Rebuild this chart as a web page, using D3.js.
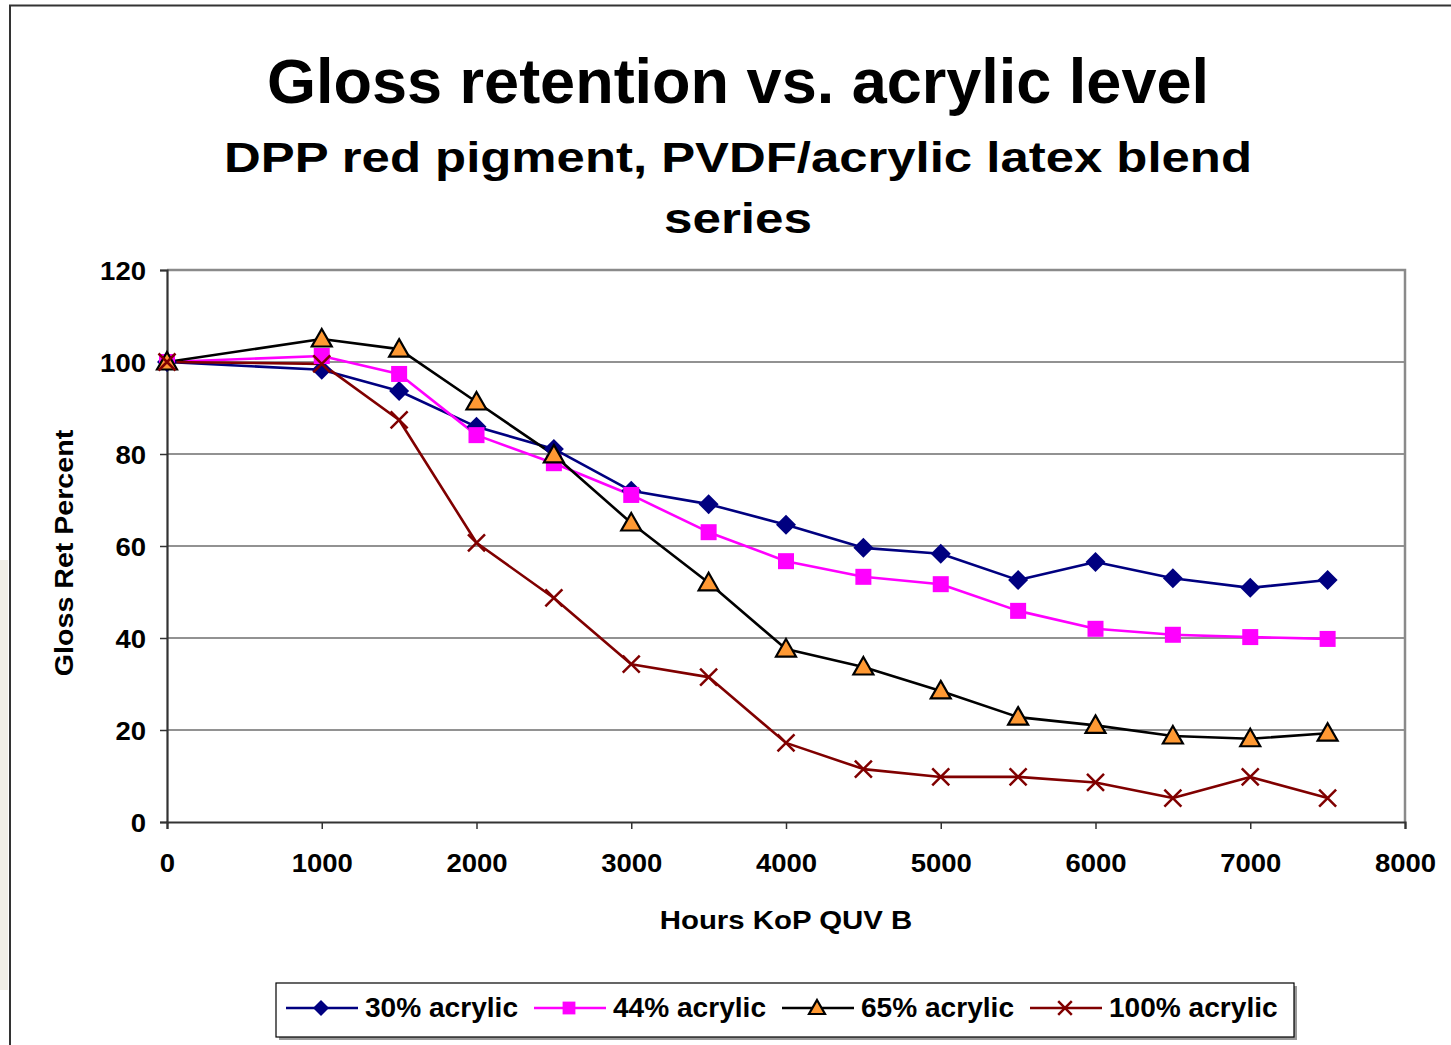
<!DOCTYPE html>
<html>
<head>
<meta charset="utf-8">
<script src="https://cdn.jsdelivr.net/npm/d3@7"></script>
<style>
  body { margin: 0; background: #fff; }
  text { font-family: "Liberation Sans", Arial, sans-serif; font-weight: bold; fill: #000; }
</style>
</head>
<body>
<div id="svg_container"></div>
<script>
// hours of exposure
const hours = [0, 1000, 1500, 2000, 2500, 3000, 3500, 4000, 4500, 5000, 5500, 6000, 6500, 7000, 7500];
// gloss retention per series
const acr30 = [100, 98.3, 93.7, 85.9, 81.1, 72.0, 69.1, 64.6, 59.6, 58.3, 52.6, 56.5, 53.0, 50.9, 52.6];
const acr44 = [100, 101.3, 97.4, 84.1, 78.0, 71.1, 63.0, 56.7, 53.3, 51.7, 45.9, 42.0, 40.7, 40.2, 39.8];
const acr65 = [100, 105.0, 102.8, 91.3, 79.8, 65.0, 52.0, 37.6, 33.7, 28.5, 22.8, 21.0, 18.7, 18.1, 19.3];
const acr100 = [100, 99.6, 87.4, 60.7, 48.7, 34.3, 31.5, 17.2, 11.5, 9.8, 9.8, 8.6, 5.2, 9.8, 5.2];
const seriesNames = ["30% acrylic", "44% acrylic", "65% acrylic", "100% acrylic"];
const xTicks = [0, 1000, 2000, 3000, 4000, 5000, 6000, 7000, 8000];
const yTicks = [0, 20, 40, 60, 80, 100, 120];

function createChart() {
    let width = 1451;
    let height = 1045;
    const svg = d3.select('#svg_container').append("svg")
        .attr("width", width)
        .attr("height", height);

    // stretch text horizontally (the source text is a bit wide)
    function stretch(sel, f) {
        sel.each(function () {
            const w = this.getComputedTextLength();
            d3.select(this).attr("textLength", w * f).attr("lengthAdjust", "spacingAndGlyphs");
        });
    }

    // faint strip on the left edge and the outer frame
    svg.append("rect").attr("x", 0).attr("y", 560).attr("width", 8).attr("height", 430).attr("fill", "#f1efe7");
    svg.append("path")
        .attr("d", "M10,1045 V5.5 H1451")
        .attr("fill", "none").attr("stroke", "#333").attr("stroke-width", 2);

    // titles
    svg.append("text").attr("x", 738).attr("y", 103).attr("text-anchor", "middle")
        .attr("font-size", 63).text("Gloss retention vs. acrylic level");
    svg.append("text").attr("x", 738).attr("y", 172).attr("text-anchor", "middle")
        .attr("font-size", 43).attr("textLength", 1028).attr("lengthAdjust", "spacingAndGlyphs")
        .text("DPP red pigment, PVDF/acrylic latex blend");
    svg.append("text").attr("x", 738).attr("y", 233).attr("text-anchor", "middle")
        .attr("font-size", 43).attr("textLength", 148).attr("lengthAdjust", "spacingAndGlyphs")
        .text("series");

    const left = 167, right = 1405, top = 270, bottom = 822;
    const x = d3.scaleLinear().domain([0, 8000]).range([left, right]);
    const y = d3.scaleLinear().domain([0, 120]).range([bottom, top]);

    // gridlines
    svg.append("g")
        .selectAll("line")
        .data(yTicks.filter(d => d > 0 && d < 120))
        .join("line")
        .attr("x1", left).attr("x2", right)
        .attr("y1", d => y(d)).attr("y2", d => y(d))
        .attr("stroke", "#262626").attr("stroke-width", 1.1);

    // plot area border (top/right gray)
    svg.append("path")
        .attr("d", `M${left},${top} H${right} V${bottom}`)
        .attr("fill", "none").attr("stroke", "#8a8a8a").attr("stroke-width", 2.5);

    // axes
    const yAxis = svg.append("g")
        .attr("transform", `translate(${left},0)`)
        .call(d3.axisLeft(y).tickValues(yTicks).tickSize(7).tickPadding(14).tickFormat(d3.format("d")));
    const xAxis = svg.append("g")
        .attr("transform", `translate(0,${bottom})`)
        .call(d3.axisBottom(x).tickValues(xTicks).tickSize(7).tickPadding(25).tickFormat(d3.format("d")));
    [yAxis, xAxis].forEach(ax => {
        ax.select(".domain").attr("stroke", "#333").attr("stroke-width", 2.2);
        ax.selectAll(".tick line").attr("stroke", "#333").attr("stroke-width", 1.5);
        ax.selectAll(".tick text").attr("font-size", 25).attr("font-family", null).attr("fill", "#000");
        stretch(ax.selectAll(".tick text"), 1.1);
    });
    yAxis.selectAll(".tick text").attr("dy", "0.36em");

    // axis titles
    const xt = svg.append("text").attr("x", 786).attr("y", 929).attr("text-anchor", "middle")
        .attr("font-size", 26).text("Hours KoP QUV B");
    stretch(xt, 1.13);
    const yt = svg.append("text").attr("transform", "translate(73,553) rotate(-90)").attr("text-anchor", "middle")
        .attr("font-size", 26).text("Gloss Ret Percent");
    stretch(yt, 1.1);

    // series definitions
    const series = [
        { name: seriesNames[0], values: acr30, line: "#000080", marker: "diamond" },
        { name: seriesNames[1], values: acr44, line: "#ff00ff", marker: "square" },
        { name: seriesNames[2], values: acr65, line: "#000000", marker: "triangle" },
        { name: seriesNames[3], values: acr100, line: "#800000", marker: "cross" }
    ];

    function drawMarker(g, type, s) {
        if (type === "diamond") {
            g.append("path").attr("d", `M0,${-s} L${s},0 L0,${s} L${-s},0 Z`).attr("fill", "#000080");
        } else if (type === "square") {
            const h = s * 0.8;
            g.append("rect").attr("x", -h).attr("y", -h).attr("width", 2 * h).attr("height", 2 * h).attr("fill", "#ff00ff");
        } else if (type === "triangle") {
            g.append("path").attr("d", `M0,${-s} L${s},${s * 0.75} L${-s},${s * 0.75} Z`)
                .attr("fill", "#ff9933").attr("stroke", "#000").attr("stroke-width", 2.2).attr("stroke-linejoin", "miter");
        } else {
            const h = s * 0.85;
            g.append("path").attr("d", `M${-h},${-h} L${h},${h} M${-h},${h} L${h},${-h}`)
                .attr("stroke", "#800000").attr("stroke-width", 2.5).attr("fill", "none");
        }
    }

    const lineGen = (vals) => d3.line().x((d, i) => x(hours[i])).y(d => y(d))(vals);

    series.forEach(s => {
        svg.append("path")
            .attr("d", lineGen(s.values))
            .attr("fill", "none").attr("stroke", s.line).attr("stroke-width", 2.6)
            .attr("stroke-linejoin", "round");
    });
    series.forEach(s => {
        svg.append("g")
            .selectAll("g")
            .data(s.values)
            .join("g")
            .attr("transform", (d, i) => `translate(${x(hours[i])},${y(d)})`)
            .each(function () { drawMarker(d3.select(this), s.marker, 10); });
    });

    // legend
    const lg = svg.append("g");
    lg.append("rect").attr("x", 279).attr("y", 986).attr("width", 1018).attr("height", 54).attr("fill", "#999");
    lg.append("rect").attr("x", 276).attr("y", 983).attr("width", 1018).attr("height", 54)
        .attr("fill", "#fff").attr("stroke", "#000").attr("stroke-width", 1.2);
    const legX = [286, 534, 782, 1030];
    series.forEach((s, i) => {
        const g = lg.append("g").attr("transform", `translate(${legX[i]},1008)`);
        g.append("line").attr("x1", 0).attr("x2", 72).attr("stroke", s.line).attr("stroke-width", 2.6);
        const m = g.append("g").attr("transform", "translate(35,0)");
        drawMarker(m, s.marker, 8);
        const tx = g.append("text").attr("x", 79).attr("y", 9).attr("font-size", 27).text(s.name);
        stretch(tx, 1.04);
    });
}

document.addEventListener('DOMContentLoaded', function (e) {
    createChart();
});
</script>
</body>
</html>
